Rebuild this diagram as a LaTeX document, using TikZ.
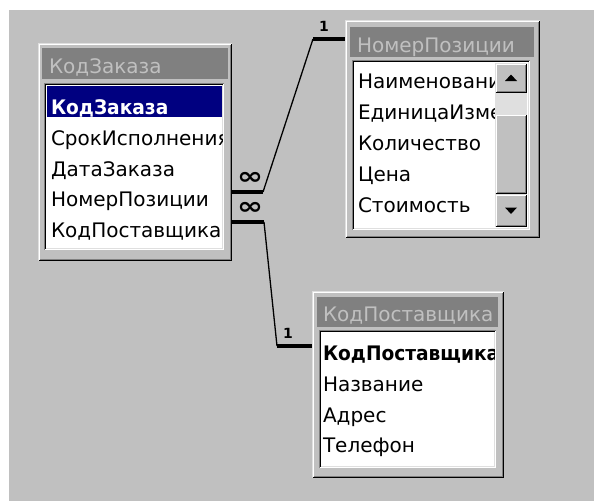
\documentclass[tikz,border=0pt]{standalone}
\usepackage{fontspec}
\setmainfont{DejaVu Sans}
\newfontfamily\rowbold{DejaVu Sans}[FakeStretch=0.93]
\usepackage{tikz}
\usetikzlibrary{positioning}

\definecolor{winbg}{HTML}{C0C0C0}
\definecolor{windark}{HTML}{808080}
\definecolor{winlight}{HTML}{DFDFDF}
\definecolor{selblue}{HTML}{000080}

% 3d edge round a node: node, inset, top/left colour, bottom/right colour
\newcommand{\winedge}[4]{%
  \draw[#3, line width=1pt] ([xshift=#2pt, yshift=#2pt]#1.south west)
    |- ([xshift=-#2pt, yshift=-#2pt]#1.north east);
  \draw[#4, line width=1pt] ([xshift=#2pt, yshift=#2pt]#1.south west)
    -| ([xshift=-#2pt, yshift=-#2pt]#1.north east);}

\begin{document}
\begin{tikzpicture}[x=1pt, y=-1pt,
    every node/.style = {inner sep=0pt, outer sep=0pt},
    frame/.style = {fill=winbg, anchor=north west},
    titlebar/.style = {fill=windark, anchor=north west},
    titletext/.style = {text=winbg, anchor=base west, font=\fontsize{20}{24}\selectfont},
    listbox/.style = {fill=white, anchor=north west},
    rowtext/.style = {anchor=base west, font=\fontsize{20}{24}\selectfont},
    keytext/.style = {anchor=base west, font=\rowbold\bfseries\fontsize{20}{24}\selectfont},
    button/.style = {fill=winbg, anchor=north west},
    bar/.style = {line width=4pt},
    link/.style = {line width=1.3pt},
    many/.style = {font=\bfseries\fontsize{24}{24}\selectfont, xscale=1.3},
    one/.style = {font=\bfseries\fontsize{14}{14}\selectfont}]
\useasboundingbox (0,0) rectangle (594,501);
\fill[white] (0,0) rectangle (594,501);
\fill[winbg] (9,10) rectangle (594,501);

% table KodZakaza
\node[frame, minimum width=194pt, minimum height=218pt] (zakaz) at (38,43) {};
\winedge{zakaz}{0.5}{winlight}{black}
\winedge{zakaz}{1.5}{white}{windark}
\node[titlebar, minimum width=186pt, minimum height=31pt] (zakaz-t) at (42,48) {};
\node[titletext] (zakaz-tl) at (49,73) {КодЗаказа};
\node[listbox, minimum width=180pt, minimum height=167pt] (zakaz-l) at (44,83) {};
\winedge{zakaz-l}{0.5}{windark}{white}
\winedge{zakaz-l}{1.5}{black}{winlight}
\begin{scope}
\clip (46,85) rectangle (222,248);
\fill[selblue] (47,86) rectangle (222,117);
\node[keytext, text=white] (z1) at (51,114) {КодЗаказа};
\node[rowtext] (z2) at (51,145) {СрокИсполнения};
\node[rowtext] (z3) at (51,176) {ДатаЗаказа};
\node[rowtext] (z4) at (51,206) {НомерПозиции};
\node[rowtext] (z5) at (51,237) {КодПоставщика};
\end{scope}

% table NomerPozicii
\node[frame, minimum width=195pt, minimum height=218pt] (pos) at (345,20) {};
\winedge{pos}{0.5}{winlight}{black}
\winedge{pos}{1.5}{white}{windark}
\node[titlebar, minimum width=184pt, minimum height=30pt] (pos-t) at (350,27) {};
\node[titletext] (pos-tl) at (357,52) {НомерПозиции};
\node[listbox, minimum width=178pt, minimum height=170pt] (pos-l) at (352,60) {};
\winedge{pos-l}{0.5}{windark}{white}
\winedge{pos-l}{1.5}{black}{winlight}
\begin{scope}
\clip (354,62) rectangle (495,228);
\node[rowtext] (p1) at (358,88) {Наименование};
\node[rowtext] (p2) at (358,119) {ЕдиницаИзмерения};
\node[rowtext] (p3) at (358,150) {Количество};
\node[rowtext] (p4) at (358,181) {Цена};
\node[rowtext] (p5) at (358,212) {Стоимость};
\end{scope}
% scroll bar
\node[button, minimum width=32pt, minimum height=30pt] (up) at (495,63) {};
\winedge{up}{0.5}{winlight}{black}
\winedge{up}{1.5}{white}{windark}
\fill ([yshift=3.5pt]up.center) -- ([shift={(6pt,-3pt)}]up.center) -- ([shift={(-6pt,-3pt)}]up.center) -- cycle;
\node[button, fill=winlight, minimum width=32pt, minimum height=21pt] (track) at (495,93) {};
\node[button, minimum width=32pt, minimum height=80pt] (thumb) at (495,114) {};
\winedge{thumb}{0.5}{winlight}{black}
\winedge{thumb}{1.5}{white}{windark}
\node[button, minimum width=32pt, minimum height=33pt] (down) at (495,194) {};
\winedge{down}{0.5}{winlight}{black}
\winedge{down}{1.5}{white}{windark}
\fill ([yshift=-3.5pt]down.center) -- ([shift={(6pt,3pt)}]down.center) -- ([shift={(-6pt,3pt)}]down.center) -- cycle;

% table KodPostavshchika
\node[frame, minimum width=192pt, minimum height=187pt] (post) at (312,291) {};
\winedge{post}{0.5}{winlight}{black}
\winedge{post}{1.5}{white}{windark}
\node[titlebar, minimum width=181pt, minimum height=30pt] (post-t) at (317,297) {};
\node[titletext] (post-tl) at (323,321) {КодПоставщика};
\node[listbox, minimum width=177pt, minimum height=138pt] (post-l) at (319,330) {};
\winedge{post-l}{0.5}{windark}{white}
\winedge{post-l}{1.5}{black}{winlight}
\begin{scope}
\clip (321,332) rectangle (494,466);
\node[keytext] (k1) at (323,360) {КодПоставщика};
\node[rowtext] (k2) at (323,391) {Название};
\node[rowtext] (k3) at (323,422) {Адрес};
\node[rowtext] (k4) at (323,452) {Телефон};
\end{scope}

% links
\coordinate (kA1) at (263,192);
\coordinate (kA2) at (313,39);
\draw[bar] (zakaz.east |- kA1) -- (kA1);
\draw[link] (kA1) -- (kA2);
\draw[bar] (kA2) -- (pos.west |- kA2);
\coordinate (kB1) at (264,222);
\coordinate (kB2) at (277,346);
\draw[bar] (zakaz.east |- kB1) -- (kB1);
\draw[link] (kB1) -- (kB2);
\draw[bar] (kB2) -- (post.west |- kB2);

\node[many] (mA) at (250,178) {∞};
\node[many] (mB) at (250,208) {∞};
\node[one] (oA) at (324,26) {1};
\node[one] (oB) at (288,333) {1};
\end{tikzpicture}
\end{document}
